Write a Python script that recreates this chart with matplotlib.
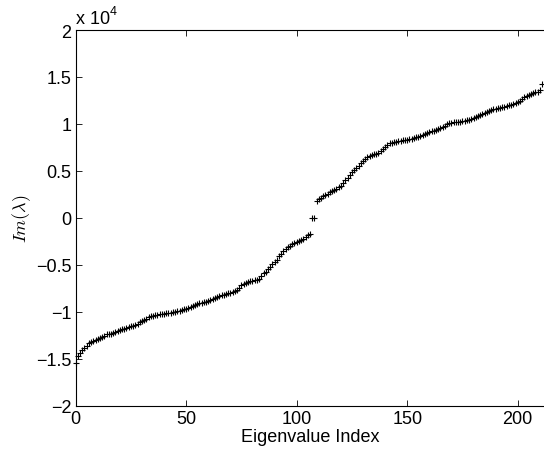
import matplotlib
matplotlib.use("Agg")
import matplotlib.pyplot as plt

plt.rcParams['font.family'] = ['Liberation Sans', 'DejaVu Sans']
plt.rcParams['mathtext.fontset'] = 'cm'

# imaginary parts of the eigenvalues, sorted
imag_vals = [
    -15400, -14700, -14400, -14000, -13800, -13600, -13300, -13250, -13100, -13000,
    -12900, -12800, -12700, -12550, -12400, -12350, -12300, -12200, -12100, -12050,
    -11950, -11850, -11800, -11700, -11600, -11500, -11450, -11350, -11250, -11100,
    -11000, -10900, -10800, -10500, -10450, -10400, -10350, -10300, -10250, -10250,
    -10200, -10150, -10100, -10100, -10050, -10000, -9900, -9850, -9800, -9700,
    -9650, -9550, -9450, -9350, -9300, -9200, -9100, -9000, -8950, -8900,
    -8800, -8700, -8600, -8500, -8400, -8350, -8250, -8200, -8100, -8000,
    -7950, -7850, -7800, -7700, -7500, -7100, -7000, -6900, -6850, -6750,
    -6700, -6650, -6600, -6500, -6200, -5900, -5700, -5450, -5200, -4950,
    -4700, -4500, -4100, -3800, -3500, -3300, -3100, -2950, -2800, -2700,
    -2600, -2500, -2350, -2200, -2000, -1850, -1700, -20, 20, 1800,
    2000, 2150, 2300, 2450, 2600, 2800, 2900, 3000, 3100, 3250,
    3450, 3750, 4050, 4300, 4600, 4850, 5100, 5350, 5550, 5800,
    6100, 6300, 6500, 6600, 6700, 6800, 6850, 6950, 7100, 7300,
    7600, 7800, 7950, 8000, 8050, 8100, 8150, 8200, 8250, 8300,
    8300, 8350, 8420, 8500, 8580, 8650, 8750, 8850, 8950, 9000,
    9100, 9200, 9300, 9400, 9450, 9550, 9650, 9800, 9950, 10100,
    10150, 10200, 10200, 10250, 10250, 10300, 10350, 10400, 10450, 10500,
    10600, 10700, 10850, 11000, 11100, 11200, 11300, 11400, 11450, 11550,
    11600, 11650, 11700, 11800, 11850, 11900, 12000, 12050, 12150, 12200,
    12300, 12450, 12650, 12850, 13000, 13100, 13150, 13250, 13350, 13400,
    13600, 14300,
]
idx = list(range(len(imag_vals)))

x_ticks = [0, 50, 100, 150, 200]
y_ticks = [-2, -1.5, -1, -0.5, 0, 0.5, 1, 1.5, 2]
y_ticklabels = ['\u22122', '\u22121.5', '\u22121', '\u22120.5', '0', '0.5', '1', '1.5', '2']

fig = plt.figure(figsize=(5.44, 4.52), dpi=100)
ax = fig.add_axes([0.139, 0.0998, 0.8615, 0.8316])

scaled = [v / 1e4 for v in imag_vals]
ax.plot(idx, scaled, '+', color='black', markersize=5, markeredgewidth=0.8,
        clip_on=False)

ax.set_xlim(0, 212)
ax.set_ylim(-2, 2)
ax.set_xticks(x_ticks)
ax.set_yticks(y_ticks)
ax.set_yticklabels(y_ticklabels)
ax.tick_params(direction='in', length=4, width=0.6, top=True, right=False,
               labelsize=13, pad=3)
for s in ax.spines.values():
    s.set_linewidth(0.8)
ax.spines['right'].set_visible(False)  # cut off at the image edge

ax.set_xlabel('Eigenvalue Index', fontsize=13, labelpad=1)
ax.set_ylabel(r'$Im(\lambda)$', fontsize=13, labelpad=2)

# MATLAB style exponent label
ax.text(0.0, 1.008, 'x 10', transform=ax.transAxes, fontsize=13,
        ha='left', va='bottom')
ax.text(0.073, 1.035, '4', transform=ax.transAxes, fontsize=9,
        ha='left', va='bottom')

fig.savefig('out.png', dpi=100)
